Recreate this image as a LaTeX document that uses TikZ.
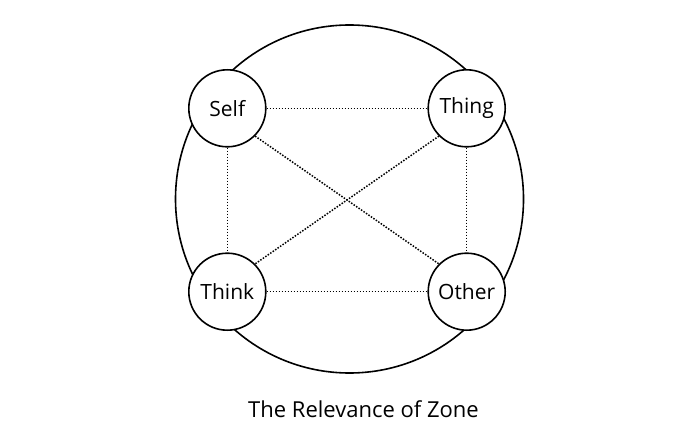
\documentclass[tikz,border=0pt]{standalone}
\usepackage{fontspec}
\setmainfont{Open Sans}
\begin{document}
\begin{tikzpicture}[x=1pt,y=-1pt,
  zone/.style={circle,draw,line width=1.6pt,minimum size=77pt,inner sep=0pt,font=\fontsize{21}{25}\selectfont,fill=white},
  link/.style={line width=1.5pt,dash pattern=on 1.5pt off 1.5pt}]
\useasboundingbox (0,0) rectangle (700,438);
\node[circle,draw,line width=1.6pt,minimum size=348pt,inner sep=0pt] (big) at (349.5,199) {};
\node[zone] (self) at (227.3,108.3) {Self};
\node[zone] (thing) at (466.7,108.3) {Thing};
\node[zone] (think) at (227.3,291.7) {Think};
\node[zone] (other) at (466.7,291.7) {Other};
\draw[link] (self) -- (thing);
\draw[link] (think) -- (other);
\draw[link] (self) -- (think);
\draw[link] (thing) -- (other);
\draw[link] (self.south east) -- (other.north west);
\draw[link] (thing.south west) -- (think.north east);
\node[font=\fontsize{22}{26}\selectfont] (title) at (363.5,409) {The Relevance of Zone};
\end{tikzpicture}
\end{document}
